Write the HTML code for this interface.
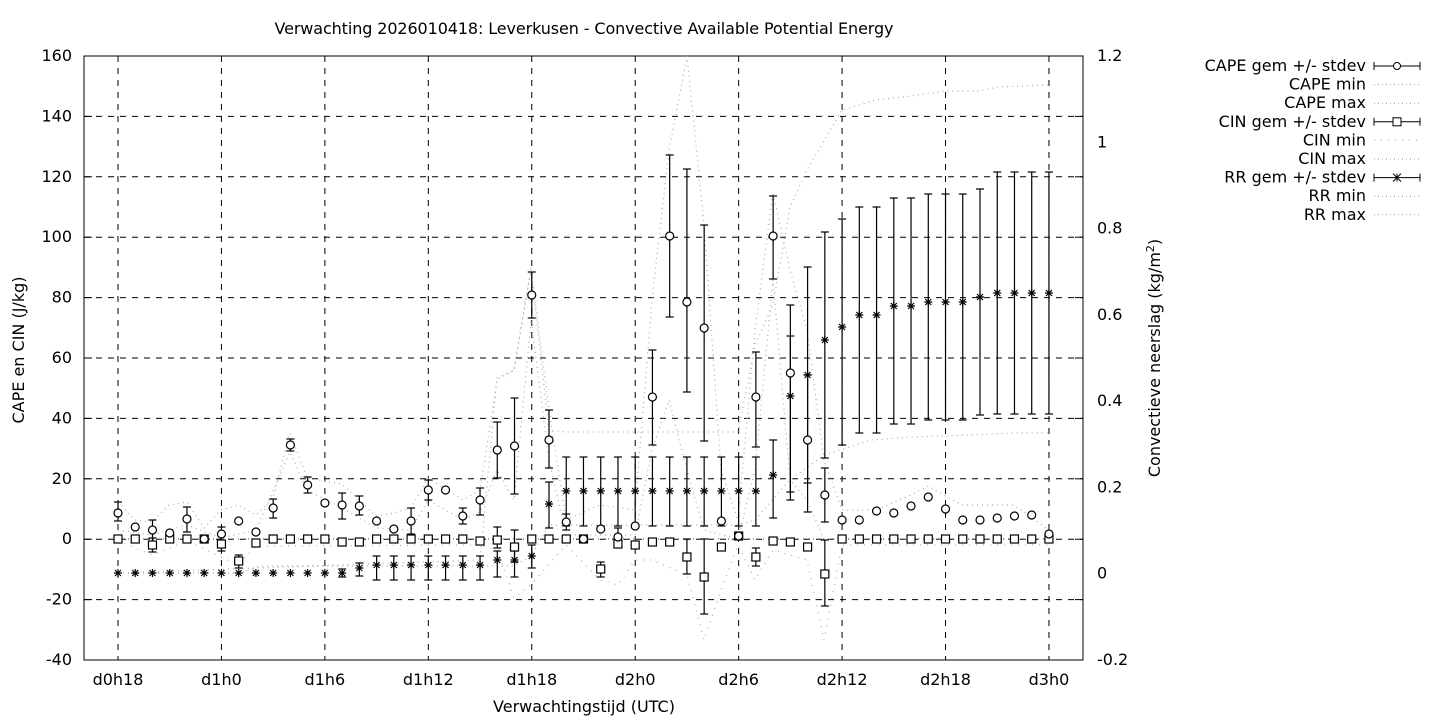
<!DOCTYPE html>
<html><head><meta charset="utf-8"><style>body{margin:0;background:#fff}svg{display:block}text{font-family:"DejaVu Sans","Liberation Sans",sans-serif;font-size:16px;fill:#000}</style></head>
<body><svg id="s" width="1440" height="720" xmlns="http://www.w3.org/2000/svg"></svg>
<script>
const s=document.getElementById('s');let h='';
const X=i=>118+17.24*i;
h+='<g stroke="#000" stroke-width="1" stroke-dasharray="6,6" fill="none">';
for(const v of [140,120,100,80,60,40,20,0,-20]){const y=56+(160-v)*3.02;h+=`<line x1="84" y1="${y}" x2="1083" y2="${y}"/>`;}
for(let k=0;k<=9;k++){const x=X(6*k);h+=`<line x1="${x}" y1="56" x2="${x}" y2="660"/>`;}
h+='</g>';
h+='<rect x="84" y="56" width="999" height="604" fill="none" stroke="#000"/>';
for(let v=160;v>=-40;v-=20){const y=56+(160-v)*3.02;h+=`<line x1="84" y1="${y}" x2="92" y2="${y}" stroke="#000"/><line x1="1083" y1="${y}" x2="1075" y2="${y}" stroke="#000"/><text x="72" y="${y+5}" text-anchor="end">${v}</text>`;}
const R=[1.2,1,0.8,0.6,0.4,0.2,0,-0.2];
for(const r of R){const y=56+(1.2-r)*431.4;h+=`<text x="1097" y="${y+5}">${r}</text>`;}
const labs=['d0h18','d1h0','d1h6','d1h12','d1h18','d2h0','d2h6','d2h12','d2h18','d3h0'];
labs.forEach((l,k)=>{const x=X(6*k);h+=`<text x="${x}" y="685" text-anchor="middle">${l}</text>`;});
h+='<text x="584" y="34" text-anchor="middle" font-size="14" textLength="619">Verwachting 2026010418: Leverkusen - Convective Available Potential Energy</text>';
h+='<text x="584" y="712" text-anchor="middle">Verwachtingstijd (UTC)</text>';
h+='<text transform="translate(24,350) rotate(-90)" text-anchor="middle">CAPE en CIN (J/kg)</text>';
h+='<text transform="translate(1160,358) rotate(-90)" text-anchor="middle">Convectieve neerslag (kg/m<tspan dy="-6" font-size="11">2</tspan><tspan dy="6">)</tspan></text>';
const gl=(pts,d)=>`<polyline fill="none" stroke="#aaa" stroke-width="1.2" stroke-dasharray="${d}" points="${pts}"/>`;
h+=gl('118,502 135,520 152,522 169,505 187,502 204,528 221,510 238,505 256,515 273,498 290,433 307,478 342,484 376,516 394,513 411,508 428,478 463,500 480,490 497,380 514,370 531,268 549,410 566,520 600,505 635,510 652,300 669,150 687,56 704,225 721,470 738,520 755,330 773,192 790,270 807,330 824,460 842,510 876,510 911,495 928,486 962,505 1014,505 1049,530','1,4');
h+=gl('118,530 152,535 187,525 221,538 256,530 290,452 307,490 342,508 376,528 411,530 428,500 463,520 480,512 497,470 514,500 531,320 549,460 566,535 635,535 652,450 669,400 687,470 704,530 738,539 755,470 773,280 790,480 807,500 824,539 1049,539','1,4');
h+=gl('118,573 480,560 497,378 514,370 531,270 549,430 566,432 738,432 755,345 773,305 790,207 807,170 842,110 876,100 911,96 945,91 980,91 997,87 1049,85','1,4');
h+=gl('118,573 240,573 260,566 480,566 514,566 531,556 549,525 738,525 755,520 790,480 824,455 871,440 911,437 945,436 1014,433 1049,433','1,4');
h+=gl('118,541 152,555 187,541 238,565 256,546 273,546 480,545 497,550 514,598 531,585 566,545 600,580 618,585 635,560 652,560 687,575 704,640 721,590 738,545 755,580 773,550 807,560 824,640 842,545 1049,545','1,6');
h+='<g stroke="#444" stroke-dasharray="1,4" fill="none"><polyline points="118,539 1049,539"/></g>';
const cape=[[513,502,521],[527],[530,520,543],[533],[519,507,532],[539],[534,527,545],[521],[532],[508,499,518],[445,439,451],[485,477,493],[503],[505,493,519],[506,496,515],[521],[529],[521,508,534],[490,480,500],[490],[516,508,524],[500,488,515],[450,422,478],[446,398,494],[295,272,318],[440,410,468],[522,514,530],[539],[529],[537,528,546],[526],[397,350,445],[236,155,317],[302,169,392],[328,225,441],[521],[536],[397,352,447],[236,196,279],[373,305,492],[440,375,512],[495,468,522],[520],[520],[511],[513],[506],[497],[509],[520],[520],[518],[516],[515],[534]];
const cinS={2:545,6:544,7:561,8:543,13:542,14:542,21:541,22:540,23:547,28:569,29:544,30:545,31:542,32:542,33:557,34:577,35:547,36:536,37:557,38:541,39:542,40:547,41:574};
const cinE={7:[555,568],23:[530,562],28:[562,577],33:[539,574],34:[539,614],37:[548,566],41:[540,606],2:[538,552],6:[535,551],22:[527,548]};
const rr=[];
for(let i=0;i<55;i++){let m=573,e=null;
if(i==13)e=[569,577];if(i==14){m=568;e=[563,576];}
if(i>=15&&i<=21){m=565;e=[556,580];}if(i==22||i==23){m=560;e=[551,577];}if(i==24){m=556;e=[545,568];}
if(i==25){m=504;e=[482,528];}if(i>=26&&i<=37){m=491;e=[457,526];}
if(i==38){m=475;e=[440,518];}if(i==39){m=396;e=[336,500];}if(i==40){m=375;e=[267,483];}
const L={41:340,42:327,43:315,44:315,45:306,46:306,47:302,48:302,49:302,50:297,51:293,52:293,53:293,54:293};
if(L[i]){m=L[i];e=[m-(i>=51?121:108),m+(i>=51?121:118)];}
rr.push([m,e]);}
const eb=(x,a,b)=>`<line x1="${x}" y1="${a}" x2="${x}" y2="${b}"/><line x1="${x-4}" y1="${a}" x2="${x+4}" y2="${a}"/><line x1="${x-4}" y1="${b}" x2="${x+4}" y2="${b}"/>`;
h+='<g stroke="#000" stroke-width="1.2" fill="#fff">';
for(let i=0;i<55;i++){const x=X(i);
const [m,e]=rr[i];if(e)h+=eb(x,e[0],e[1]);
h+=`<path d="M${x-4} ${m}h8M${x} ${m-4}v8M${x-3} ${m-3}l6 6M${x+3} ${m-3}l-6 6"/>`;
const c=cape[i];if(c.length>1)h+=eb(x,c[1],c[2]);
const cm=cinS[i]||539;if(cinE[i])h+=eb(x,cinE[i][0],cinE[i][1]);
h+=`<rect x="${x-4}" y="${cm-4}" width="8" height="8"/>`;
h+=`<circle cx="${x}" cy="${c[0]}" r="4"/>`;}
h+='</g>';
const leg=[['CAPE gem +/- stdev','c'],['CAPE min','d'],['CAPE max','d'],['CIN gem +/- stdev','s'],['CIN min','d2'],['CIN max','d'],['RR gem +/- stdev','x'],['RR min','d'],['RR max','d']];
leg.forEach((l,k)=>{const y=66+18.6*k;h+=`<text x="1366" y="${y+5}" text-anchor="end">${l[0]}</text>`;
if(l[1][0]=='d')h+=`<line x1="1374" y1="${y}" x2="1420" y2="${y}" stroke="#999" stroke-dasharray="${l[1]=='d2'?'1,6':'1,3'}"/>`;
else{h+=`<g stroke="#000" fill="#fff"><line x1="1374" y1="${y}" x2="1420" y2="${y}"/><line x1="1374" y1="${y-4}" x2="1374" y2="${y+4}"/><line x1="1420" y1="${y-4}" x2="1420" y2="${y+4}"/>`;
if(l[1]=='c')h+=`<circle cx="1397" cy="${y}" r="3.5"/>`;if(l[1]=='s')h+=`<rect x="1393" y="${y-4}" width="8" height="8"/>`;
if(l[1]=='x')h+=`<path d="M1393 ${y-4}l8 8M1401 ${y-4}l-8 8M1397 ${y-4}v8"/>`;h+='</g>';}});
s.innerHTML=h;
</script></body></html>
